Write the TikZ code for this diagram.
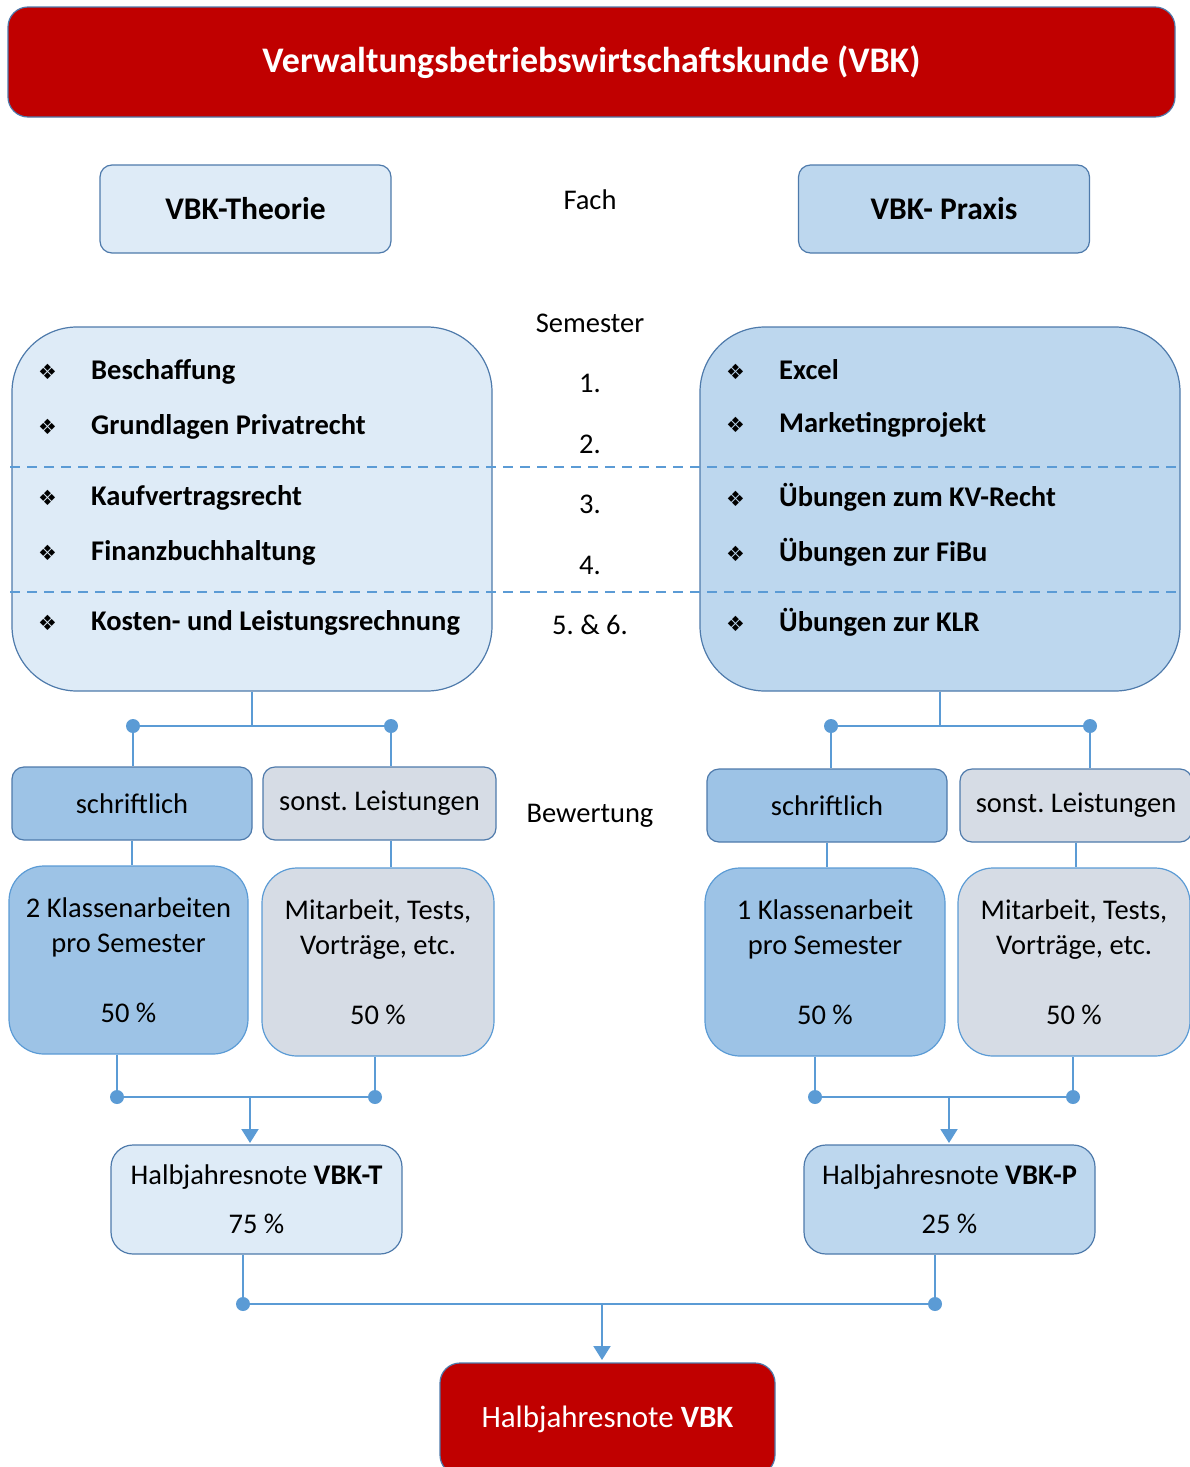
\documentclass[tikz,border=0pt]{standalone}
\usepackage{fontspec}
\setmainfont{Carlito}
\newfontfamily\symfont{DejaVu Sans}
\usetikzlibrary{arrows.meta}
\frenchspacing

\definecolor{vbkred}{HTML}{C00000}
\definecolor{pale}{HTML}{DEEBF7}
\definecolor{mid}{HTML}{BDD7EE}
\definecolor{deep}{HTML}{9DC3E6}
\definecolor{greyb}{HTML}{D6DCE5}
\definecolor{rim}{HTML}{4E7AAB}
\definecolor{wire}{HTML}{5B9BD5}

\newcommand\bodyfont{\fontsize{28.5}{35}\selectfont}
\newcommand\itemfont{\fontsize{28.5}{34}\selectfont\bfseries}
\newcommand\headfont{\fontsize{31.5}{36}\selectfont\bfseries}
\newcommand\titlefont{\fontsize{36}{42}\selectfont\bfseries}
\newcommand\finalfont{\fontsize{31}{36}\selectfont}
\newcommand\bul{\makebox[53pt][l]{\symfont\fontsize{21}{21}\selectfont ❖}}

\tikzset{
  titlebox/.style={draw=rim, fill=vbkred, text=white, line width=1.2pt,
    rounded corners=20pt, inner sep=0pt},
  headbox/.style={draw=rim, line width=1.2pt, rounded corners=12pt,
    minimum width=291pt, minimum height=88pt, font=\headfont},
  bigbox/.style={draw=rim, line width=1.2pt, rounded corners=65pt,
    minimum width=480pt, minimum height=364pt},
  kindbox/.style={draw=rim, line width=1.2pt, rounded corners=12pt,
    minimum height=73pt, font=\bodyfont},
  sharebox/.style={draw=wire, line width=1.2pt, rounded corners=35pt,
    minimum height=188pt, align=center, font=\bodyfont},
  gradebox/.style={draw=rim, line width=1.2pt, rounded corners=22pt,
    minimum width=291pt, minimum height=109pt, align=center, font=\bodyfont},
  lbl/.style={font=\bodyfont},
  item/.style={anchor=west, font=\itemfont, inner sep=0pt},
  dot/.style={circle, fill=wire, inner sep=0pt, minimum size=14pt},
  wire/.style={draw=wire, line width=2pt},
  tip/.style={wire, -{Triangle[width=17pt,length=14pt]}}
}

\begin{document}
\begin{tikzpicture}[x=1pt,y=-1pt]
  \useasboundingbox (0,0) rectangle (1190,1467);

  % Kopf
  \node[titlebox, minimum width=1167pt, minimum height=110pt, font=\titlefont]
    (title) at (591.5,62) {Verwaltungsbetriebswirtschaftskunde (VBK)};
  \node[headbox, fill=pale] (theo) at (245.5,209) {VBK-Theorie};
  \node[headbox, fill=mid] (prax) at (944,209) {VBK- Praxis};
  \node[lbl] (fach) at (590,200) {Fach};

  % Semester
  \node[lbl] (sem) at (590,323) {Semester};
  \node[bigbox, fill=pale] (theoBig) at (252,509) {};
  \node[bigbox, fill=mid] (praxBig) at (940,509) {};
  \draw[wire, line width=1.6pt, dash pattern=on 10pt off 7pt] (10,467) -- (1178,467);
  \draw[wire, line width=1.6pt, dash pattern=on 10pt off 7pt] (10,592) -- (1178,592);
  \foreach \t/\y [count=\i] in {1./383, 2./444, 3./504, 4./565, 5. \& 6./625}
    \node[lbl] (nr\i) at (590,\y) {\t};
  \foreach \t/\y [count=\i] in {Beschaffung/372, Grundlagen Privatrecht/427,
      Kaufvertragsrecht/498, Finanzbuchhaltung/553,
      Kosten- und Leistungsrechnung/623}
    \node[item] (th\i) at (38,\y) {\bul\t};
  \foreach \t/\y [count=\i] in {Excel/370, Marketingprojekt/425,
      Übungen zum KV-Recht/497, Übungen zur FiBu/552, Übungen zur KLR/622}
    \node[item] (pr\i) at (726,\y) {\bul\t};

  % Bewertung
  \node[lbl] (bew) at (590,816) {Bewertung};
  \node[kindbox, fill=deep, minimum width=240pt] (schrT) at (132,803.5) {schriftlich};
  \node[kindbox, fill=greyb, minimum width=233pt] (sonstT) at (379.5,803.5) {sonst. Leistungen};
  \node[kindbox, fill=deep, minimum width=240pt] (schrP) at (827,805.5) {schriftlich};
  \node[kindbox, fill=greyb, minimum width=232pt] (sonstP) at (1076,805.5) {sonst. Leistungen};

  \node[sharebox, fill=deep, minimum width=239pt] (klT) at (128.5,960)
    {2 Klassenarbeiten\\pro Semester\\[35pt]50 \%};
  \node[sharebox, fill=greyb, minimum width=232pt] (mitT) at (378,962)
    {Mitarbeit, Tests,\\Vorträge, etc.\\[35pt]50 \%};
  \node[sharebox, fill=deep, minimum width=240pt] (klP) at (825,962)
    {1 Klassenarbeit\\pro Semester\\[35pt]50 \%};
  \node[sharebox, fill=greyb, minimum width=232pt] (mitP) at (1074,962)
    {Mitarbeit, Tests,\\Vorträge, etc.\\[35pt]50 \%};

  \node[gradebox, fill=pale] (gT) at (256.5,1199.5)
    {Halbjahresnote \textbf{VBK-T}\\[14pt]75 \%};
  \node[gradebox, fill=mid] (gP) at (949.5,1199.5)
    {Halbjahresnote \textbf{VBK-P}\\[14pt]25 \%};
  \node[titlebox, minimum width=335pt, minimum height=112pt, font=\finalfont]
    (final) at (607.5,1419) {Halbjahresnote \textbf{VBK}};

  % Verbindungen
  \node[dot] (dT1) at (133,726) {};
  \node[dot] (dT2) at (391,726) {};
  \node[dot] (dP1) at (831,726) {};
  \node[dot] (dP2) at (1090,726) {};
  \node[dot] (lT1) at (117,1097) {};
  \node[dot] (lT2) at (375,1097) {};
  \node[dot] (lP1) at (815,1097) {};
  \node[dot] (lP2) at (1073,1097) {};
  \node[dot] (bT) at (243,1304) {};
  \node[dot] (bP) at (935,1304) {};

  \draw[wire] (dT1) -- (dT2);
  \draw[wire] (theoBig.south) -- (theoBig.south |- dT1);
  \draw[wire] (dT1) -- (dT1 |- schrT.north);
  \draw[wire] (dT2) -- (dT2 |- sonstT.north);
  \draw[wire] (schrT.south) -- (schrT.south |- klT.north);
  \draw[wire] (dT2 |- sonstT.south) -- (dT2 |- mitT.north);
  \draw[wire] (dP1) -- (dP2);
  \draw[wire] (praxBig.south) -- (praxBig.south |- dP1);
  \draw[wire] (dP1) -- (dP1 |- schrP.north);
  \draw[wire] (dP2) -- (dP2 |- sonstP.north);
  \draw[wire] (schrP.south) -- (schrP.south |- klP.north);
  \draw[wire] (sonstP.south) -- (sonstP.south |- mitP.north);

  \draw[wire] (lT1 |- klT.south) -- (lT1) -- (lT2) -- (lT2 |- mitT.south);
  \draw[tip] (250,1097) -- (250,1143);
  \draw[wire] (lP1 |- klP.south) -- (lP1) -- (lP2) -- (lP2 |- mitP.south);
  \draw[tip] (949,1097) -- (949,1143);

  \draw[wire] (bT |- gT.south) -- (bT) -- (bP) -- (bP |- gP.south);
  \draw[tip] (602,1304) -- (602,1360);
\end{tikzpicture}
\end{document}
